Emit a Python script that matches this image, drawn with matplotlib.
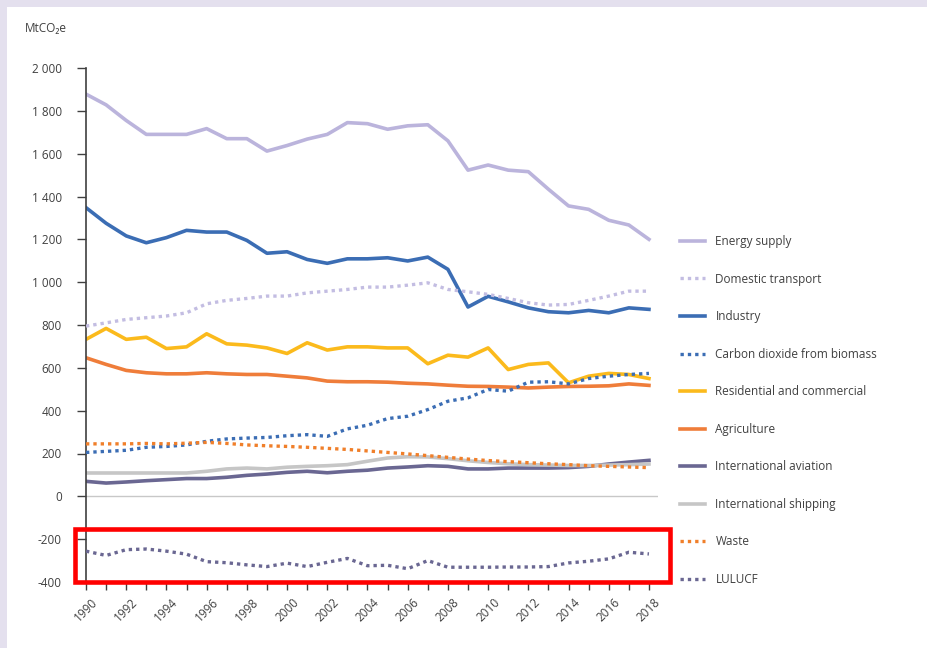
import matplotlib.pyplot as plt
from matplotlib.patches import Rectangle
from matplotlib.ticker import FuncFormatter, MultipleLocator
import numpy as np

plt.rcParams["font.family"] = ["Open Sans", "DejaVu Sans"]

# Emissions by sector, MtCO2e, 1990-2018
years = np.arange(1990, 2019)

energy_supply = [1878, 1828, 1755, 1690, 1690, 1690, 1717, 1670, 1670, 1612, 1638, 1668, 1690, 1745, 1740,
                 1714, 1730, 1735, 1660, 1523, 1547, 1523, 1516, 1434, 1356, 1340, 1289, 1267, 1200]
domestic_transport = [795, 810, 826, 834, 842, 857, 899, 915, 924, 935, 935, 950, 958, 966, 977,
                      977, 986, 997, 966, 955, 943, 924, 904, 893, 896, 915, 935, 958, 958]
industry = [1348, 1275, 1216, 1184, 1208, 1242, 1234, 1234, 1195, 1135, 1142, 1106, 1088, 1109, 1109,
            1114, 1099, 1117, 1060, 884, 934, 908, 880, 862, 857, 868, 857, 880, 873]
biomass_co2 = [205, 210, 215, 229, 233, 240, 257, 268, 272, 275, 283, 288, 280, 315, 332,
               363, 374, 405, 444, 460, 499, 491, 533, 535, 525, 550, 561, 569, 574]
residential = [733, 784, 733, 743, 690, 698, 759, 712, 706, 693, 667, 717, 683, 698, 698,
               693, 693, 619, 659, 650, 693, 592, 616, 623, 530, 561, 574, 569, 550]
agriculture = [647, 616, 588, 577, 572, 572, 577, 572, 569, 569, 561, 553, 538, 535, 535,
               533, 528, 525, 519, 514, 513, 510, 506, 510, 513, 514, 516, 525, 518]
aviation = [70, 62, 67, 73, 78, 83, 83, 89, 98, 104, 112, 117, 110, 117, 122,
            132, 137, 143, 140, 128, 128, 132, 132, 132, 134, 140, 151, 160, 168]
shipping = [109, 109, 109, 109, 109, 109, 117, 128, 132, 128, 136, 140, 143, 148, 164,
            179, 185, 184, 176, 166, 158, 152, 148, 146, 144, 144, 146, 148, 151]
waste = [245, 245, 245, 247, 245, 248, 252, 247, 240, 236, 233, 229, 224, 219, 212,
         205, 198, 190, 182, 174, 167, 162, 157, 152, 148, 143, 140, 137, 134]
lulucf = [-256, -276, -249, -246, -256, -270, -305, -310, -320, -328, -312, -328, -308, -290, -324,
          -322, -338, -300, -331, -331, -331, -330, -330, -328, -311, -303, -292, -261, -269]

series = [
    ("Energy supply", energy_supply, "#bbb4dc", "-"),
    ("Domestic transport", domestic_transport, "#c3bde2", ":"),
    ("Industry", industry, "#3b6db4", "-"),
    ("Carbon dioxide from biomass", biomass_co2, "#3b6db4", ":"),
    ("Residential and commercial", residential, "#fbba1c", "-"),
    ("Agriculture", agriculture, "#ef7d3a", "-"),
    ("International aviation", aviation, "#6a6792", "-"),
    ("International shipping", shipping, "#c6c6c6", "-"),
    ("Waste", waste, "#f07f2a", ":"),
    ("LULUCF", lulucf, "#6a6792", ":"),
]

text_color = "#404040"
border_color = "#e4e0ee"

fig = plt.figure(figsize=(9.28, 6.48), dpi=100)
fig.patch.set_facecolor("white")
# thin lavender border along the top and left edges
fig.add_artist(Rectangle((0, 1 - 7 / 648), 1, 7 / 648, transform=fig.transFigure,
                         facecolor=border_color, edgecolor="none", zorder=-1))
fig.add_artist(Rectangle((0, 0), 7 / 928, 1, transform=fig.transFigure,
                         facecolor=border_color, edgecolor="none", zorder=-1))

ax = fig.add_axes([86 / 928, 66 / 648, (658 - 86) / 928, (581 - 67) / 648])
ax.patch.set_alpha(0)

ax.axhline(0, color="#c8c8c8", lw=1.0, zorder=1)

for name, values, color, style in series:
    if style == ":":
        ax.plot(years, values, color=color, lw=2.4, linestyle=(0, (1, 1.2)),
                solid_capstyle="butt", label=name, zorder=3)
    else:
        ax.plot(years, values, color=color, lw=2.6, label=name, zorder=2)

ax.set_xlim(1990, 2018.45)
ax.set_ylim(-400, 2000)

ax.yaxis.set_major_locator(MultipleLocator(200))
ax.yaxis.set_major_formatter(FuncFormatter(lambda v, p: f"{int(v):,}".replace(",", " ")))
ax.xaxis.set_major_locator(MultipleLocator(2))
ax.xaxis.set_minor_locator(MultipleLocator(1))

for side in ["top", "right", "bottom"]:
    ax.spines[side].set_visible(False)
ax.spines["left"].set_color(text_color)
ax.spines["left"].set_linewidth(1.2)

ax.tick_params(axis="y", length=6.5, width=1.0, color=text_color, labelcolor=text_color,
               labelsize=8.5, pad=11)
ax.tick_params(axis="x", which="both", length=6, width=1.0, color=text_color,
               labelcolor=text_color, labelsize=8.5, pad=4)
for lbl in ax.get_xticklabels():
    lbl.set_rotation(45)
    lbl.set_ha("center")

fig.text(25 / 928, 1 - 28 / 648, "MtCO₂e", fontsize=8.5, color=text_color, va="center", ha="left")

leg = fig.legend(loc="upper left", bbox_to_anchor=(680 / 928, 1 - 235 / 648), frameon=False,
                 fontsize=8.5, labelspacing=2.08, handlelength=2.1, handletextpad=0.9,
                 borderpad=0, borderaxespad=0)
for t in leg.get_texts():
    t.set_color(text_color)

# red highlight box around the LULUCF series
fig.add_artist(Rectangle((75 / 928, 1 - 581.5 / 648), (670 - 75) / 928, 53 / 648,
                         transform=fig.transFigure, fill=False, edgecolor="#ff0000",
                         lw=3.3, zorder=5))

fig.savefig("out.png", dpi=100)
